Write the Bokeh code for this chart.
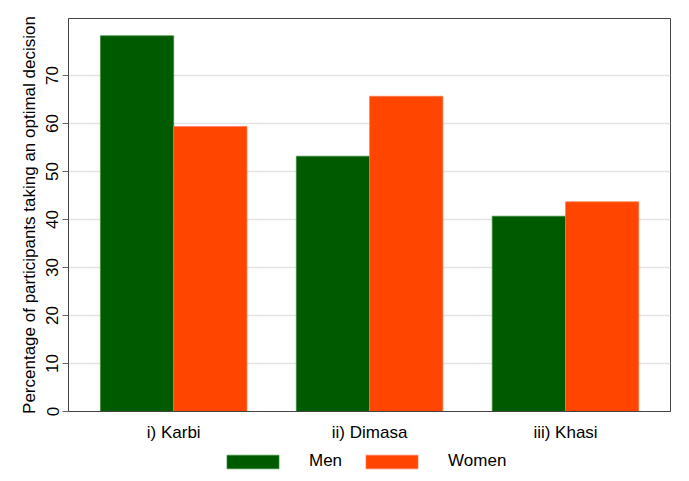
from bokeh.plotting import figure
from bokeh.layouts import column
from bokeh.models import Range1d, FixedTicker, Legend, LegendItem, ColumnDataSource
from bokeh.embed import file_html
from bokeh.resources import INLINE

categories = ["i) Karbi", "ii) Dimasa", "iii) Khasi"]
men = [78.3, 53.2, 40.7]
women = [59.4, 65.7, 43.7]
y_ticks = [0, 10, 20, 30, 40, 50, 60, 70]

pos = [1, 2, 3]
bw = 0.374
src = ColumnDataSource(dict(
    xm=[p_ - bw / 2 for p_ in pos],
    xw=[p_ + bw / 2 for p_ in pos],
    men=men, women=women))

FONT = "Liberation Sans"
MEN_C = "#005a00"
WOMEN_C = "#ff4500"

p = figure(width=689, height=445, output_backend="svg", toolbar_location=None,
           x_range=Range1d(0.463, 3.536), y_range=Range1d(0, 81.9),
           min_border_left=68, min_border_right=19, min_border_top=18, min_border_bottom=34)
p.background_fill_color = "white"
p.border_fill_color = "white"
p.outline_line_color = "#444444"
p.outline_line_width = 1

rm = p.vbar(x="xm", top="men", width=bw, source=src, fill_color=MEN_C,
            line_color="#3a8a3a", line_width=0.7)
rw = p.vbar(x="xw", top="women", width=bw, source=src, fill_color=WOMEN_C,
            line_color="#ff7a50", line_width=0.7)

p.xgrid.visible = False
p.ygrid.grid_line_color = "#e3e3e3"
p.ygrid.grid_line_width = 1.5
p.ygrid.ticker = FixedTicker(ticks=y_ticks[1:])

p.xaxis.ticker = FixedTicker(ticks=pos)
p.xaxis.major_label_overrides = {pos[i]: categories[i] for i in range(3)}
p.xaxis.major_tick_line_color = None
p.xaxis.major_tick_out = 0
p.xaxis.major_tick_in = 0
p.xaxis.minor_tick_line_color = None
p.xaxis.minor_tick_out = 0
p.xaxis.axis_label_standoff = 0
p.xaxis.major_label_text_font = FONT
p.xaxis.major_label_text_font_size = "17px"
p.xaxis.major_label_text_color = "black"
p.xaxis.major_label_standoff = 11
p.xaxis.axis_line_color = "#444444"

p.yaxis.ticker = FixedTicker(ticks=y_ticks)
p.yaxis.major_label_orientation = "vertical"
p.yaxis.major_label_text_font = FONT
p.yaxis.major_label_text_font_size = "17px"
p.yaxis.major_label_text_color = "black"
p.yaxis.major_tick_out = 6
p.yaxis.major_tick_in = 0
p.yaxis.major_tick_line_color = "#666666"
p.yaxis.minor_tick_line_color = None
p.yaxis.axis_line_color = "#444444"
p.yaxis.axis_label = "Percentage of participants taking an optimal decision"
p.yaxis.axis_label_text_font = FONT
p.yaxis.axis_label_text_font_size = "17px"
p.yaxis.axis_label_text_font_style = "normal"
p.yaxis.axis_label_text_color = "black"
p.yaxis.axis_label_standoff = 5
p.yaxis.major_label_standoff = 4

# legend strip below the chart
pl = figure(width=689, height=36, output_backend="svg", toolbar_location=None,
            x_range=Range1d(10, 11), y_range=Range1d(0, 1),
            x_axis_type=None, y_axis_type=None,
            min_border_left=0, min_border_right=0, min_border_top=0, min_border_bottom=0)
pl.outline_line_color = None
pl.grid.visible = False
lm = pl.vbar(x="xm", top="men", width=bw, source=src, fill_color=MEN_C,
             line_color="#3a8a3a", line_width=0.7, visible=False)
lw = pl.vbar(x="xw", top="women", width=bw, source=src, fill_color=WOMEN_C,
             line_color="#ff7a50", line_width=0.7, visible=False)
legend = Legend(items=[LegendItem(label="Men", renderers=[lm]),
                       LegendItem(label="Women", renderers=[lw])],
                orientation="horizontal", location=(152, 10),
                glyph_width=65, glyph_height=17, label_standoff=24, spacing=17,
                padding=0, margin=0, border_line_color=None,
                background_fill_alpha=0, label_text_color="black",
                inactive_fill_alpha=0,
                label_text_font=FONT, label_text_font_size="17px")
pl.add_layout(legend, "center")

layout = column(p, pl, spacing=0)
open("out.html", "w").write(file_html(layout, INLINE))
